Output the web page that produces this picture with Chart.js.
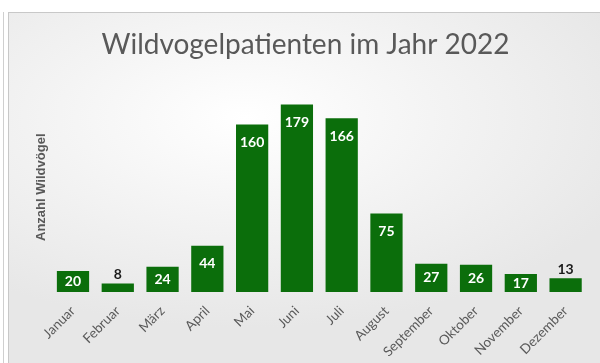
<!DOCTYPE html>
<html>
<head>
<meta charset="utf-8">
<script src="https://cdn.jsdelivr.net/npm/chart.js@4"></script>
<style>
    body { margin: 0; width: 600px; height: 363px; background: #fff; overflow: hidden; position: relative; }
    #line { position: absolute; left: 3px; top: 12px; width: 1px; height: 351px; background: #cfcfcf; }
    #panel {
        position: absolute; left: 8px; top: 12px; right: 0; bottom: 0;
        border-left: 1px solid #c8c8c8; border-top: 1px solid #c8c8c8;
        background: radial-gradient(ellipse 70% 60% at 40% 30%, #ffffff 0%, #f4f4f4 45%, #e7e7e7 100%);
    }
    #wrap { position: absolute; left: 9px; top: 13px; width: 591px; height: 350px; }
</style>
</head>
<body>
<div id="line"></div>
<div id="panel"></div>
<div id="wrap"><canvas id="bar"></canvas></div>
<script>
const MONTHS = ['Januar', 'Februar', 'März', 'April', 'Mai', 'Juni', 'Juli', 'August', 'September', 'Oktober', 'November', 'Dezember']
const PATIENTS = [20, 8, 24, 44, 160, 179, 166, 75, 27, 26, 17, 13]
const Y_MAX = 200

const GREEN = '#0b6e0b'
const GREY_TEXT = '#595959'

// value labels: inside the bar near its end, above it when the bar is too short
const valueLabels = {
    id: 'valueLabels',
    afterDatasetsDraw(chart) {
        const ctx = chart.ctx
        const meta = chart.getDatasetMeta(0)
        ctx.save()
        ctx.font = 'bold 14px Lato'
        ctx.textAlign = 'center'
        ctx.textBaseline = 'middle'
        meta.data.forEach((bar, i) => {
            const h = bar.base - bar.y
            let y
            if (h > 15) {
                ctx.fillStyle = '#ffffff'
                y = Math.min(bar.y + 18, (bar.y + bar.base) / 2)
            } else {
                ctx.fillStyle = '#1a1a1a'
                y = bar.y - 9
            }
            ctx.fillText(PATIENTS[i], bar.x, y)
        })
        ctx.restore()
    }
}

new Chart(document.getElementById('bar'), {
    type: 'bar',
    data: {
        labels: MONTHS,
        datasets: [{
            label: 'Anzahl Wildvögel',
            data: PATIENTS,
            backgroundColor: GREEN,
            borderWidth: 0,
            categoryPercentage: 1,
            barPercentage: 0.72
        }]
    },
    options: {
        responsive: true,
        maintainAspectRatio: false,
        animation: false,
        layout: { padding: { left: 14, right: 12, top: 0, bottom: 0 } },
        plugins: {
            legend: { display: false },
            tooltip: { enabled: false },
            title: {
                display: true,
                text: 'Wildvogelpatienten im Jahr 2022',
                color: GREY_TEXT,
                font: { family: 'Lato', size: 28, weight: 'normal' },
                padding: { top: 15, bottom: 21 }
            }
        },
        scales: {
            x: {
                grid: { display: false },
                border: { display: false },
                ticks: {
                    color: GREY_TEXT,
                    font: { family: 'Lato', size: 13.5 },
                    maxRotation: 45,
                    minRotation: 45,
                    padding: 3
                }
            },
            y: {
                min: 0,
                max: Y_MAX,
                grid: { display: false, drawTicks: false },
                border: { display: false },
                ticks: { display: false },
                title: {
                    display: true,
                    text: 'Anzahl Wildvögel',
                    color: GREY_TEXT,
                    font: { family: 'Liberation Sans', size: 13, weight: 'bold' },
                    padding: { top: 11, bottom: 1 }
                }
            }
        }
    },
    plugins: [valueLabels]
})
</script>
</body>
</html>
